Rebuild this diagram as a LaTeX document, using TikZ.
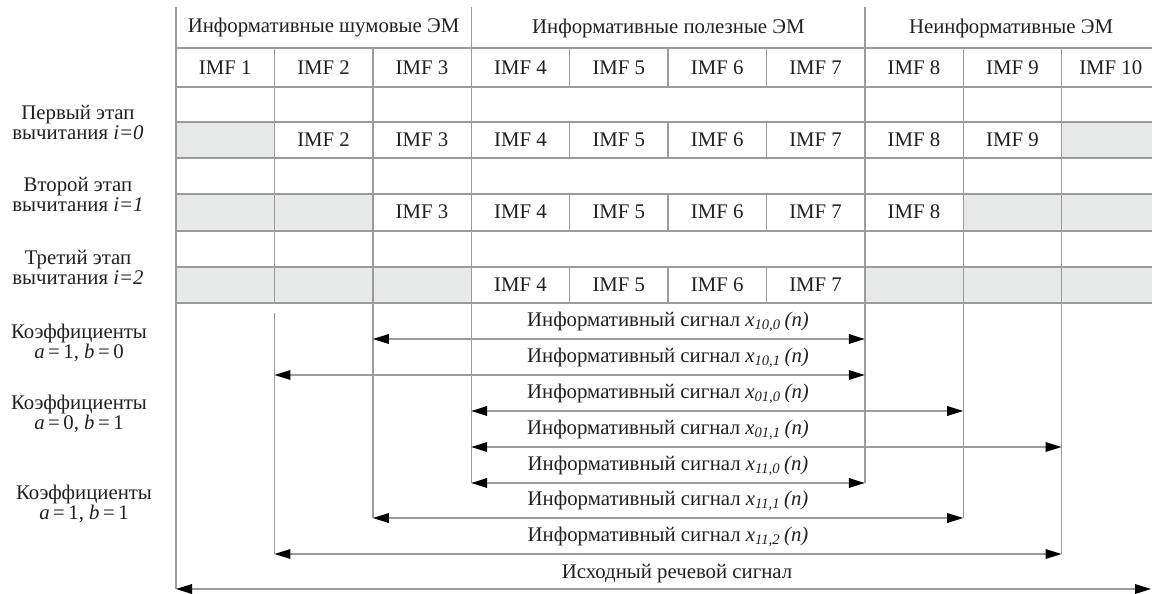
\documentclass[tikz,border=0pt]{standalone}
\usepackage{fontspec}
\setmainfont{Liberation Serif}
\usetikzlibrary{arrows.meta}

\definecolor{gridgray}{RGB}{155,155,155}
\definecolor{cellgray}{RGB}{231,233,233}
\definecolor{inkgray}{RGB}{32,32,32}

\tikzset{
    gridline/.style={gridgray,line width=0.7pt},
    txt/.style={font=\fontsize{10.4}{10}\selectfont,text=inkgray,inner sep=0pt,align=center},
    sig/.style={gridline,{Triangle[length=8pt,width=4.8pt,color=black]}-{Triangle[length=8pt,width=4.8pt,color=black]}}
}

\begin{document}
\begin{tikzpicture}[x=0.5pt,y=-0.5pt]
    \useasboundingbox (0,0) rectangle (1152,594);
    \clip (0,0) rectangle (1152,594);

    \foreach \r/\cols in {122/{0,9},194/{0,1,8,9},267/{0,1,2,7,8,9}}
        \foreach \k in \cols
            \fill [cellgray] ({176+98.4*\k},\r) rectangle ++(98.4,36.5);

    \foreach \y in {48,87,122,158,194,231,267,303}
        \draw [gridline] (176,\y)--(1152,\y);
    \foreach \k/\t/\b in {0/7/589,1/48/303,1/313/554,2/48/518,3/7/483,7/7/483,8/48/518,9/48/554}
        \draw [gridline] ({176+98.4*\k},\t)--({176+98.4*\k},\b);
    \foreach \k in {4,5,6}
        \foreach \t/\b in {48/87,122/158,194/231,267/303}
            \draw [gridline] ({176+98.4*\k},\t)--({176+98.4*\k},\b);

    \node [txt] (noisy) at (323.6,28) {Информативные шумовые ЭМ};
    \node [txt] (useful) at (668.4,28) {Информативные полезные ЭМ};
    \node [txt] (noninf) at (1011,28) {Неинформативные ЭМ};

    \foreach \r/\a/\b in {68/1/10,140/2/9,212/3/8,285/4/7}
        \foreach \k in {\a,...,\b}
            \node [txt] (imf\k-\r) at ({176+98.4*(\k-0.5)},\r) {IMF \k};

    \node [txt] (stage0) at (78,122) {Первый этап\\вычитания \textit{i=0}};
    \node [txt] (stage1) at (78,194) {Второй этап\\вычитания \textit{i=1}};
    \node [txt] (stage2) at (78,267) {Третий этап\\вычитания \textit{i=2}};
    \node [txt] (coefA) at (79,343) {Коэффициенты\\\textit{a}\,=\,1, \textit{b}\,=\,0};
    \node [txt] (coefB) at (79,414) {Коэффициенты\\\textit{a}\,=\,0, \textit{b}\,=\,1};
    \node [txt] (coefC) at (84,504) {Коэффициенты\\\textit{a}\,=\,1, \textit{b}\,=\,1};

    \foreach \i/\a/\b/\y/\s in {1/2/7/339/{10,0},2/1/7/375/{10,1},3/3/8/411/{01,0},4/3/9/447/{01,1},5/3/7/483/{11,0},6/2/8/518/{11,1},7/1/9/554/{11,2}}{
        \coordinate (s\i) at ({176+98.4*\a},\y);
        \coordinate (e\i) at ({176+98.4*\b},\y);
        \draw [sig] (s\i)--(e\i);
        \node [txt] (lab\i) at (668,\y-17) {Информативный сигнал \textit{x\textsubscript{\s}\,(n)}};
    }
    \coordinate (s8) at (176,589);
    \coordinate (e8) at (1151,589);
    \draw [sig] (s8)--(e8);
    \node [txt] (lab8) at (677,574) {Исходный речевой сигнал};
\end{tikzpicture}
\end{document}
